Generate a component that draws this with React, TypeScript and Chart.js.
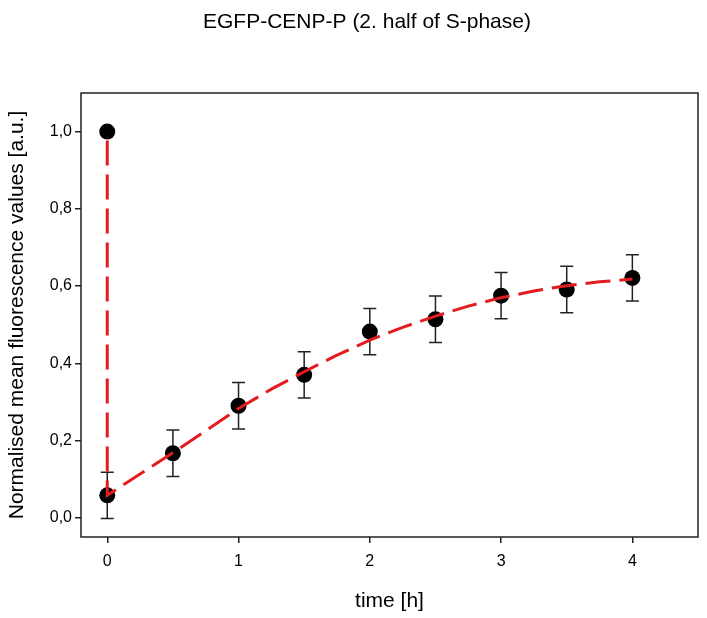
import React, { useEffect, useRef } from 'react';
import { Chart, registerables } from 'chart.js';

Chart.register(...registerables);

const titleText = 'EGFP-CENP-P (2. half of S-phase)';
const xAxisTitle = 'time [h]';
const yAxisTitle = 'Normalised mean fluorescence values [a.u.]';

const xTickValues = [0, 1, 2, 3, 4];
const xTickLabels = ['0', '1', '2', '3', '4'];
const yTickValues = [0, 0.2, 0.4, 0.6, 0.8, 1.0];
const yTickLabels = ['0,0', '0,2', '0,4', '0,6', '0,8', '1,0'];

const timePoints = [0, 0, 0.5, 1, 1.5, 2, 2.5, 3, 3.5, 4];
const meanValues = [1.0, 0.058, 0.167, 0.29, 0.37, 0.482, 0.514, 0.575, 0.591, 0.621];
const errValues = [0, 0.06, 0.06, 0.06, 0.06, 0.06, 0.06, 0.06, 0.06, 0.06];

const fitTimes = [0, 0, 0.25, 0.5, 0.75, 1, 1.25, 1.5, 1.75, 2, 2.25, 2.5, 2.75, 3, 3.25, 3.5, 3.75, 4];
const fitValues = [1.0, 0.058, 0.113, 0.168, 0.225, 0.283, 0.333, 0.378, 0.421, 0.46, 0.493, 0.522, 0.548, 0.57, 0.587, 0.601, 0.611, 0.618];

const FONT = '"Liberation Sans", Arial, Helvetica, sans-serif';

const boxPlugin = {
  id: 'boxPlugin',
  beforeDatasetsDraw(chart: any) {
    const { ctx, scales } = chart;
    const xs = scales.x;
    const ys = scales.y;
    ctx.save();
    ctx.strokeStyle = '#222';
    ctx.lineWidth = 1.5;
    for (let i = 0; i < timePoints.length; i++) {
      const e = errValues[i];
      if (!e) continue;
      const px = xs.getPixelForValue(timePoints[i]);
      const lo = ys.getPixelForValue(meanValues[i] - e);
      const hi = ys.getPixelForValue(meanValues[i] + e);
      ctx.beginPath();
      ctx.moveTo(px, lo);
      ctx.lineTo(px, hi);
      ctx.moveTo(px - 6.5, lo);
      ctx.lineTo(px + 6.5, lo);
      ctx.moveTo(px - 6.5, hi);
      ctx.lineTo(px + 6.5, hi);
      ctx.stroke();
    }
    ctx.restore();
  },
  afterDraw(chart: any) {
    const { ctx, chartArea } = chart;
    ctx.save();
    ctx.strokeStyle = '#222';
    ctx.lineWidth = 1.5;
    ctx.strokeRect(chartArea.left, chartArea.top, chartArea.right - chartArea.left, chartArea.bottom - chartArea.top);
    ctx.fillStyle = '#000';
    ctx.font = '21px ' + FONT;
    ctx.textAlign = 'center';
    ctx.textBaseline = 'alphabetic';
    ctx.fillText(titleText, 367, 28);
    ctx.restore();
  },
};

export default function App() {
  const ref = useRef<HTMLCanvasElement | null>(null);
  useEffect(() => {
    if (!ref.current) return;
    const chart = new Chart(ref.current, {
      type: 'scatter',
      data: {
        datasets: [
          {
            type: 'line',
            label: 'fit',
            data: fitTimes.map((t, i) => ({ x: t, y: fitValues[i] })),
            borderColor: 'rgb(228,28,32)',
            borderWidth: 3,
            borderDash: [25, 9],
            borderDashOffset: 25,
            pointRadius: 0,
            tension: 0,
            fill: false,
            order: 0,
          } as any,
          {
            label: 'mean',
            data: timePoints.map((t, i) => ({ x: t, y: meanValues[i] })),
            backgroundColor: '#000',
            borderColor: '#000',
            borderWidth: 0,
            pointRadius: 8,
            pointHoverRadius: 8,
            order: 1,
          },
        ],
      },
      options: {
        responsive: false,
        animation: false,
        devicePixelRatio: 1,
        layout: { padding: { top: 93, right: 9, left: 0, bottom: 0 } },
        plugins: {
          legend: { display: false },
          tooltip: { enabled: false },
          title: { display: false },
        },
        scales: {
          x: {
            type: 'linear',
            min: -0.2,
            max: 4.5,
            afterBuildTicks: (s: any) => {
              s.ticks = xTickValues.map((v) => ({ value: v }));
            },
            afterFit: (s: any) => {
              s.height = 81;
            },
            border: { display: false },
            grid: { drawOnChartArea: false, drawTicks: true, tickLength: 6, color: '#222', lineWidth: 1.5 },
            ticks: {
              padding: 9,
              color: '#000',
              font: { family: FONT, size: 16 },
              maxRotation: 0,
              callback: (v: any, i: number) => xTickLabels[i],
            },
            title: {
              display: true,
              text: xAxisTitle,
              color: '#000',
              font: { family: FONT, size: 21 },
              padding: { top: 0, bottom: 4 },
            },
          },
          y: {
            type: 'linear',
            min: -0.05,
            max: 1.1,
            afterBuildTicks: (s: any) => {
              s.ticks = yTickValues.map((v) => ({ value: v }));
            },
            afterFit: (s: any) => {
              s.width = 81;
            },
            border: { display: false },
            grid: { drawOnChartArea: false, drawTicks: true, tickLength: 6, color: '#222', lineWidth: 1.5 },
            ticks: {
              padding: 3,
              color: '#000',
              font: { family: FONT, size: 16 },
              callback: (v: any, i: number) => yTickLabels[i],
            },
            title: {
              display: true,
              text: yAxisTitle,
              color: '#000',
              font: { family: FONT, size: 21 },
              padding: { top: 5, bottom: 0 },
            },
          },
        },
      },
      plugins: [boxPlugin],
    });
    return () => chart.destroy();
  }, []);
  return (
    <div style={{ position: 'fixed', left: 0, top: 0, width: 707, height: 618, background: '#fff' }}>
      <canvas ref={ref} width={707} height={618} style={{ display: 'block', width: 707, height: 618 }} />
    </div>
  );
}
